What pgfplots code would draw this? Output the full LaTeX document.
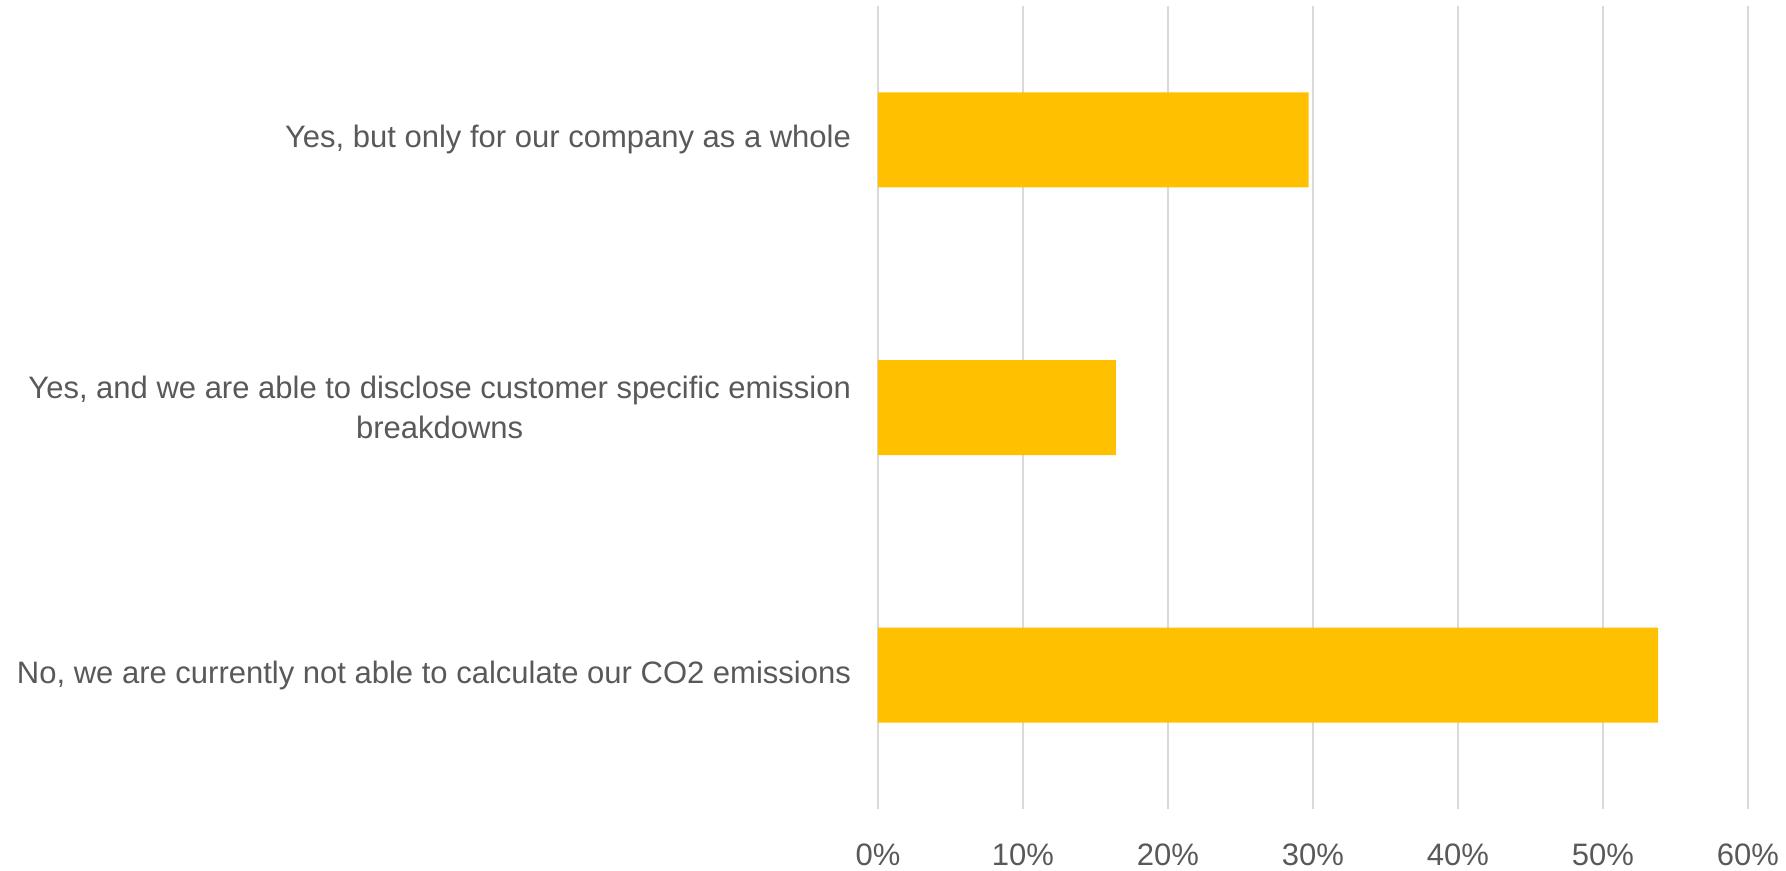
\documentclass[border=0pt]{standalone}
\usepackage{pgfplots}
\pgfplotsset{compat=1.18}
\usepackage{fontspec}
\setmainfont{Liberation Sans}
\definecolor{barcol}{HTML}{FFC000}
\definecolor{txtcol}{HTML}{595959}
\definecolor{gridcol}{HTML}{D9D9D9}

\begin{document}
\begin{tikzpicture}
\begin{axis}[
    xbar, scale only axis,
    width=435pt, height=401.5pt,
    xmin=0, xmax=60,
    ymin=-0.5, ymax=2.5, y dir=reverse,
    ytick={0,1,2},
    yticklabels={
        {Yes, but only for our company as a whole},
        {Yes, and we are able to disclose customer specific emission\\breakdowns},
        {No, we are currently not able to calculate our CO2 emissions}},
    xtick={0,10,...,60},
    xticklabels={0\%,10\%,20\%,30\%,40\%,50\%,60\%},
    xmajorgrids, major grid style={draw=gridcol, line width=0.6pt},
    axis line style={draw=none},
    major tick length=0pt,
    tick label style={font=\fontsize{15.5}{20}\selectfont, text=txtcol},
    yticklabel style={align=center, xshift=-10pt},
    xticklabel style={yshift=-14pt},
    /pgf/number format/assume math mode=true,
    bar width=47.5pt,
]
\addplot[fill=barcol, draw=none] coordinates {(29.7,0) (16.4,1) (53.8,2)};
\end{axis}
\pgfresetboundingbox
\path (-439pt,-31pt) rectangle (454pt,404.5pt);
\end{tikzpicture}
\end{document}
